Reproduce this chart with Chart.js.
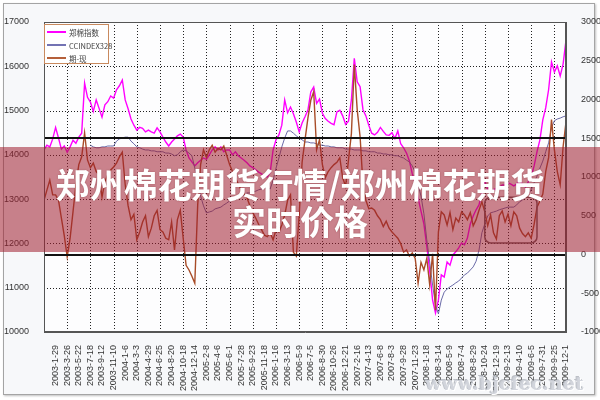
<!DOCTYPE html>
<html>
<head>
<meta charset="utf-8">
<title>郑州棉花期货行情</title>
<script src="https://cdn.jsdelivr.net/npm/chart.js@4.4.0/dist/chart.umd.min.js"></script>
<style>
    body { margin: 0; background: #fff; }
    #wrap { position: relative; width: 600px; height: 400px; overflow: hidden; }
    #frame {
        position: absolute; left: 3px; top: 3px; width: 590px; height: 390px;
        border: 1px solid #a4a4a4; background: #f7f8fa;
        box-shadow: 1px 1px 2px rgba(0, 0, 0, 0.25);
    }
    #chart { position: absolute; left: 0; top: 0; }
    .legend {
        position: absolute; left: 44px; top: 24px; width: 65px; height: 40px;
        box-sizing: border-box; border: 1px solid #c98a5e; background: #fff;
        font: 7.5px 'Noto Sans CJK SC', 'Liberation Sans', sans-serif; color: #444;
    }
    .legend-row { position: absolute; left: 2px; height: 10px; display: flex; align-items: center; white-space: nowrap; }
    .legend-row i { display: inline-block; width: 19px; height: 2px; margin-right: 3px; }
    .banner {
        position: absolute; left: 0; top: 147px; width: 600px; height: 105px;
        box-sizing: border-box; padding-top: 4px;
        background: rgba(160, 30, 45, 0.55);
        display: flex; flex-direction: column; justify-content: center; align-items: center;
        color: #fff; font: bold 34px 'Noto Sans CJK SC', sans-serif; line-height: 37px;
        text-shadow: 0 0 2px rgba(80, 0, 10, 0.35);
    }
    .watermark {
        position: absolute; left: 425px; top: 372px; line-height: 22px;
        font: bold 19px 'DejaVu Serif', serif; color: rgba(205, 208, 216, 0.9);
        text-shadow: 1px 1px 0 #fff, -1px -1px 0 rgba(130, 135, 145, 0.5);
    }
</style>
</head>
<body>
<div id="wrap">
    <div id="frame"></div>
    <canvas id="chart" width="600" height="400"></canvas>
    <div class="legend">
        <div class="legend-row" style="top:2px"><i style="background:#ff00ff"></i>郑棉指数</div>
        <div class="legend-row" style="top:15px"><i style="background:#7373b3"></i>CCINDEX328</div>
        <div class="legend-row" style="top:28px"><i style="background:#b5603a"></i>期-现</div>
    </div>
    <div class="banner"><div>郑州棉花期货行情/郑州棉花期货</div><div>实时价格</div></div>
    <div class="watermark">www.bjcfec.net</div>
</div>
<script>
// spacing of samples, in label intervals
const STEP = 0.25;

const dateLabels = [
    '2003-1-29', '2003-3-26', '2003-5-22', '2003-7-18', '2003-9-12', '2003-11-10', '2004-1-6', '2004-3-3',
    '2004-4-29', '2004-6-25', '2004-8-20', '2004-10-18', '2004-12-14', '2005-2-8', '2005-4-6', '2005-6-1',
    '2005-7-28', '2005-9-23', '2005-11-18', '2006-1-16', '2006-3-13', '2006-5-9', '2006-7-5', '2006-8-30',
    '2006-10-26', '2006-12-21', '2007-2-16', '2007-4-13', '2007-6-8', '2007-8-3', '2007-9-28', '2007-11-23',
    '2008-1-18', '2008-3-14', '2008-5-9', '2008-7-4', '2008-8-29', '2008-10-24', '2008-12-19', '2009-2-13',
    '2009-4-10', '2009-6-5', '2009-7-31', '2009-9-25', '2009-12-1'
];

const leftTicks = [10000, 11000, 12000, 13000, 14000, 15000, 16000, 17000];
const rightTicks = [-1000, -500, 0, 500, 1000, 1500, 2000, 2500, 3000];

// 郑棉指数
const zhengIndex = [
    14110, 14220, 14180, 14360, 14620, 14380, 14130, 14200, 14060, 14180, 14330, 14260,
    14400, 14490, 15620, 15300, 15190, 14980, 15240, 15050, 14850, 15130, 15200, 15330,
    15280, 15470, 15560, 15690, 15240, 15040, 14810, 14670, 14560, 14620, 14600, 14520,
    14560, 14520, 14490, 14610, 14520, 14400, 14290, 14200, 14290, 14360, 14430, 14470,
    14400, 14110, 13930, 13840, 13750, 13820, 13880, 13930, 13900, 14000, 14110, 14180,
    14110, 14180, 14070, 14110, 14110, 14000, 14070, 13980, 13930, 13880, 13820, 13750,
    13710, 13660, 13610, 13570, 13520, 13500, 13610, 14110, 14340, 14450, 14670, 15240,
    14950, 15080, 14930, 14740, 14520, 14720, 14860, 15010, 15420, 15530, 15160, 15260,
    14940, 14820, 14760, 14710, 14680, 14970, 15010, 14880, 14690, 14760, 15240, 16180,
    15650, 15540, 15020, 14880, 14670, 14490, 14450, 14510, 14620, 14530, 14450, 14440,
    14500, 14370, 14540, 14250, 14160, 14040, 13860, 13570, 13370, 13030, 12730, 12440,
    11940, 11380, 10720, 10430, 10720, 11290, 11240, 11580, 11510, 11740, 11810, 11900,
    12010, 11970, 12120, 12440, 12620, 12760, 12870, 13140, 13410, 13210, 13160, 13210,
    13250, 13270, 13320, 13320, 13370, 13340, 13300, 13340, 13430, 13340, 13270, 13390,
    13500, 13750, 14070, 14340, 14790, 15060, 15470, 16100, 15870, 16010, 15780, 16050,
    16590
];

// CCIndex328
const ccIndex = [
    null, null, null, null, null, null, null, null, null, null, null, null,
    null, null, null, null, 14220, 14180, 14160, 14160, 14180, 14180, 14200, 14200,
    14200, 14310, 14360, 14380, 14400, 14400, 14310, 14250, 14180, 14160, 14130, 14110,
    14110, 14090, 14090, 14070, 14070, 14070, 14040, 14040, 14020, 13980, 14000, 14070,
    14110, 14090, 14040, 13980, 13700, 13370, 13070, 12850, 12690, 12710, 12730, 12780,
    12800, 12820, 12870, 12910, 12960, 12980, 13000, 13030, 13070, 13090, 13140, 13140,
    13160, 13180, 13210, 13230, 13250, 13270, 13230, 13430, 13700, 13930, 14180, 14380,
    14540, 14540, 14490, 14430, 14380, 14340, 14290, 14290, 14270, 14270, 14250, 14220,
    14220, 14200, 14200, 14180, 14180, 14160, 14160, 14160, 14130, 14130, 14130, 14110,
    14110, 14110, 14090, 14090, 14070, 14070, 14070, 14040, 14040, 14020, 14020, 14000,
    14000, 13980, 13980, 13950, 13930, 13880, 13840, 13750, 13610, 13320, 13070, 12670,
    12080, 11580, 11060, 10610, 10410, 10720, 10900, 10970, 11020, 11060, 11110, 11150,
    11220, 11290, 11330, 11400, 11470, 11600, 11850, 12240, 12440, 12620, 12690, 12710,
    12730, 12760, 12780, 12800, 12820, 12820, 12820, 12870, 12940, 12980, 13050, 13120,
    13210, 13370, 13520, 13700, 13860, 14070, 14270, 14610, 14770, 14810, 14830, 14860,
    14880
];

// 期-现 (right axis)
const basis = [
    700, 830, 960, 770, 770, 700, 470, 240, -30, 210, 550, 900,
    1160, 1260, 1570, 1220, 1120, 1180, 1070, 1030, 740, 940, 1030, 1090,
    1130, 1180, 1260, 1320, 900, 630, 450, 520, 190, 290, 420, 500,
    230, 340, 500, 570, 320, 290, 210, 190, 420, 60, 450, 570,
    210, -140, -200, -280, -370, 640, 1160, 1350, 1250, 1350, 1410, 1320,
    1370, 1350, 1400, 1280, 1160, 1070, 990, 910, 830, 780, 730, 630,
    540, 470, 390, 320, 250, 230, 280, 190, 320, 290, 380, 510,
    700, 770, 30, -20, 510, 1190, 1480, 1760, 1990, 2100, 1350, 1480,
    1160, 990, 1070, 1120, 1160, 1190, 1250, 990, 880, 1220, 1560, 2450,
    1870, 1520, 900, 700, 590, 600, 570, 500, 450, 360, 430, 340,
    290, 250, 210, 140, 30, 60, -20, 20, -50, -370, -100, -200,
    -50, -390, 10, -720, 290, 550, 510, 380, 540, 320, 470, 420,
    550, 510, 450, 540, 370, 450, 570, 680, 550, 370, 510, 280,
    200, 500, 560, 420, 520, 370, 550, 500, 340, 270, 230, 280,
    210, 390, 610, 690, 780, 1070, 1250, 1740, 1350, 1070, 900, 1390,
    1710
];

// thick reference lines on the right axis, and the circled area (x in label units, y on right axis)
const refLevels = [0, 1500];
const markBox = { x0: 38, x1: 42.5, y0: 150, y1: 740 };

window.addEventListener('DOMContentLoaded', () => {
    renderChart();
});

function toPoints(values) {
    return values.map((v, i) => ({ x: i * STEP, y: v }));
}

const plotDecor = {
    id: 'plotDecor',
    beforeDraw(chart) {
        const { ctx, chartArea: a } = chart;
        ctx.save();
        ctx.fillStyle = '#fdfdfe';
        ctx.fillRect(a.left, a.top, a.right - a.left, a.bottom - a.top);
        ctx.restore();
    },
    beforeDatasetsDraw(chart) {
        // dotted grid, drawn by hand so the dots stay crisp
        const { ctx, chartArea: a } = chart;
        const xs = chart.scales.x;
        const yl = chart.scales.y;
        ctx.save();
        ctx.strokeStyle = '#222';
        ctx.lineWidth = 1;
        ctx.setLineDash([1, 2]);
        dateLabels.forEach((label, i) => {
            const n = i + 1;
            if (n % 2 !== 0 || n >= dateLabels.length) return;
            const x = Math.round(xs.getPixelForValue(n)) + 0.5;
            ctx.beginPath();
            ctx.moveTo(x, a.top);
            ctx.lineTo(x, a.bottom);
            ctx.stroke();
        });
        leftTicks.slice(1, -1).forEach(v => {
            const y = Math.round(yl.getPixelForValue(v)) + 0.5;
            ctx.beginPath();
            ctx.moveTo(a.left, y);
            ctx.lineTo(a.right, y);
            ctx.stroke();
        });
        ctx.restore();
    },
    afterDatasetsDraw(chart) {
        const { ctx, chartArea: a } = chart;
        const xs = chart.scales.x;
        const yr = chart.scales.yRight;
        ctx.save();

        ctx.strokeStyle = '#111';
        ctx.lineWidth = 2;
        refLevels.forEach(level => {
            const y = Math.round(yr.getPixelForValue(level));
            ctx.beginPath();
            ctx.moveTo(a.left, y);
            ctx.lineTo(a.right, y);
            ctx.stroke();
        });

        const bx0 = xs.getPixelForValue(markBox.x0);
        const bx1 = xs.getPixelForValue(markBox.x1);
        const by0 = yr.getPixelForValue(markBox.y1);
        const by1 = yr.getPixelForValue(markBox.y0);
        const r = 6;
        ctx.strokeStyle = '#6b5a5c';
        ctx.lineWidth = 1.5;
        ctx.beginPath();
        ctx.moveTo(bx0 + r, by0);
        ctx.lineTo(bx1 - r, by0);
        ctx.arcTo(bx1, by0, bx1, by0 + r, r);
        ctx.lineTo(bx1, by1 - r);
        ctx.arcTo(bx1, by1, bx1 - r, by1, r);
        ctx.lineTo(bx0 + r, by1);
        ctx.arcTo(bx0, by1, bx0, by1 - r, r);
        ctx.lineTo(bx0, by0 + r);
        ctx.arcTo(bx0, by0, bx0 + r, by0, r);
        ctx.stroke();

        ctx.strokeStyle = '#555';
        ctx.lineWidth = 1;
        ctx.strokeRect(a.left + 0.5, a.top + 0.5, a.right - a.left - 1, a.bottom - a.top - 1);
        ctx.restore();
    }
};

function renderChart() {
    const ctx = document.getElementById('chart');
    Chart.defaults.font.family = "'Liberation Sans', Arial, sans-serif";
    Chart.defaults.color = '#333';

    new Chart(ctx.getContext('2d'), {
        type: 'line',
        data: {
            datasets: [
                {
                    label: '期-现',
                    data: toPoints(basis),
                    yAxisID: 'yRight',
                    borderColor: '#a84c28',
                    borderWidth: 1.4,
                    order: 0
                },
                {
                    label: 'CCINDEX328',
                    data: toPoints(ccIndex),
                    yAxisID: 'y',
                    borderColor: '#6a6aa8',
                    borderWidth: 1,
                    order: 1
                },
                {
                    label: '郑棉指数',
                    data: toPoints(zhengIndex),
                    yAxisID: 'y',
                    borderColor: '#ff00ff',
                    borderWidth: 1.4,
                    order: 2
                }
            ]
        },
        options: {
            responsive: false,
            animation: false,
            events: [],
            layout: { padding: { top: 22, left: 0, right: 0, bottom: 0 } },
            elements: {
                point: { radius: 0 },
                line: { tension: 0 }
            },
            plugins: {
                legend: { display: false },
                tooltip: { enabled: false }
            },
            scales: {
                x: {
                    type: 'linear',
                    min: 0,
                    max: dateLabels.length,
                    afterFit: scale => { scale.height = 68; },
                    ticks: {
                        stepSize: 1,
                        autoSkip: false,
                        maxRotation: 90,
                        minRotation: 90,
                        padding: 5,
                        font: { size: 9 },
                        callback: value => dateLabels[value - 1] || ''
                    },
                    grid: { display: false },
                    border: { display: true, color: '#555' }
                },
                y: {
                    position: 'left',
                    min: leftTicks[0],
                    max: leftTicks[leftTicks.length - 1],
                    afterFit: scale => { scale.width = 44; },
                    afterBuildTicks: scale => { scale.ticks = leftTicks.map(v => ({ value: v })); },
                    ticks: {
                        padding: 7,
                        font: { size: 9 },
                        callback: value => String(value)
                    },
                    grid: { display: false },
                    border: { display: true, color: '#555' }
                },
                yRight: {
                    position: 'right',
                    min: rightTicks[0],
                    max: rightTicks[rightTicks.length - 1],
                    afterFit: scale => { scale.width = 34; },
                    afterBuildTicks: scale => { scale.ticks = rightTicks.map(v => ({ value: v })); },
                    ticks: {
                        padding: 7,
                        font: { size: 9 },
                        callback: value => String(value)
                    },
                    grid: { display: false },
                    border: { display: true, color: '#555' }
                }
            }
        },
        plugins: [plotDecor]
    });
}
</script>
</body>
</html>
